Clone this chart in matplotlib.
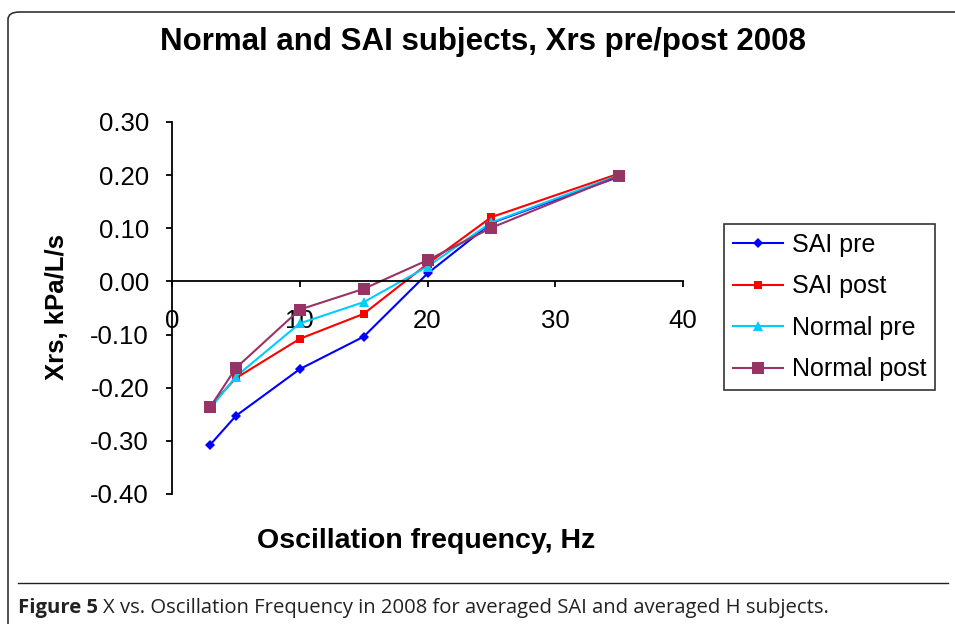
import matplotlib
matplotlib.use("Agg")
import matplotlib.pyplot as plt
from matplotlib.patches import FancyBboxPatch
from matplotlib.lines import Line2D

freq = [3, 5, 10, 15, 20, 25, 35]
sai_pre = [-0.307, -0.253, -0.165, -0.104, 0.015, 0.110, 0.197]
sai_post = [-0.234, -0.182, -0.108, -0.061, 0.033, 0.121, 0.203]
normal_pre = [-0.239, -0.179, -0.079, -0.039, 0.028, 0.111, 0.200]
normal_post = [-0.236, -0.163, -0.053, -0.014, 0.040, 0.101, 0.199]
series_names = ["SAI pre", "SAI post", "Normal pre", "Normal post"]
x_ticks = [0, 10, 20, 30, 40]
y_ticks = [-0.40, -0.30, -0.20, -0.10, 0.00, 0.10, 0.20, 0.30]

W, H = 955, 624
fig = plt.figure(figsize=(W / 100, H / 100), dpi=100)
plt.rcParams['font.family'] = ['Liberation Sans', 'DejaVu Sans']

# outer frame
frame = FancyBboxPatch((8 / W, 1 - 12 / H - 700 / H), 1000 / W, 700 / H,
                       boxstyle="round,pad=0,rounding_size=0.012",
                       transform=fig.transFigure, fill=False, lw=1.2,
                       edgecolor='#333333', clip_on=False)
fig.patches.append(frame)
# caption separator
fig.add_artist(Line2D([18 / W, 948 / W], [1 - 583 / H, 1 - 583 / H],
                      transform=fig.transFigure, color='#222222', lw=1.0))

ax = fig.add_axes([172 / W, 1 - 494 / H, (683 - 172) / W, (494 - 122) / H])
ax.set_xlim(0, 40)
ax.set_ylim(-0.40, 0.30)

styles = [
    dict(color='#0000FF', marker='D', markersize=5),
    dict(color='#FF0000', marker='s', markersize=5.5),
    dict(color='#00CCFF', marker='^', markersize=7),
    dict(color='#993366', marker='s', markersize=8),
]
data = [sai_pre, sai_post, normal_pre, normal_post]
for name, ys, st in zip(series_names, data, styles):
    ax.plot(freq, ys, label=name, lw=1.5, markeredgewidth=0, **st)

ax.spines['top'].set_visible(False)
ax.spines['right'].set_visible(False)
ax.spines['bottom'].set_position(('data', 0))
for s in ('left', 'bottom'):
    ax.spines[s].set_linewidth(1.3)
ax.set_xticks(x_ticks)
ax.set_yticks(y_ticks)
ax.set_yticklabels([f"{v:.2f}" for v in y_ticks])
ax.tick_params(axis='x', direction='out', length=4.5, width=1.3, pad=15, labelsize=18.5)
ax.tick_params(axis='y', direction='out', length=4.5, width=1.3, pad=12, labelsize=18.5)

fig.text(57 / W, 1 - 307 / H, "Xrs, kPa/L/s", fontsize=18.5, fontweight='bold',
         rotation=90, ha='center', va='center')
fig.text(426 / W, 1 - 541 / H, "Oscillation frequency, Hz", fontsize=20.5,
         fontweight='bold', ha='center', va='center')
fig.text(483 / W, 1 - 42 / H, "Normal and SAI subjects, Xrs pre/post 2008",
         fontsize=22.5, fontweight='bold', ha='center', va='center')

leg = ax.legend(loc='upper left', bbox_to_anchor=(724 / W, 1 - 224 / H),
                bbox_transform=fig.transFigure, fontsize=18, frameon=True,
                fancybox=False, edgecolor='black', borderpad=0.35,
                handlelength=2.0, handletextpad=0.35, labelspacing=0.7,
                borderaxespad=0)
leg.get_frame().set_linewidth(1.2)

cap_y = 1 - 608 / H
t1 = fig.text(18 / W, cap_y, "Figure 5", fontsize=14.6, fontweight='bold',
              family='Open Sans', ha='left', va='center', color='#222222')
fig.canvas.draw()
bb = t1.get_window_extent()
fig.text((bb.x1 + 5) / W, cap_y,
         "X vs. Oscillation Frequency in 2008 for averaged SAI and averaged H subjects.",
         fontsize=14.6, family='Open Sans', ha='left', va='center', color='#222222')

fig.savefig("out.png", dpi=100)
